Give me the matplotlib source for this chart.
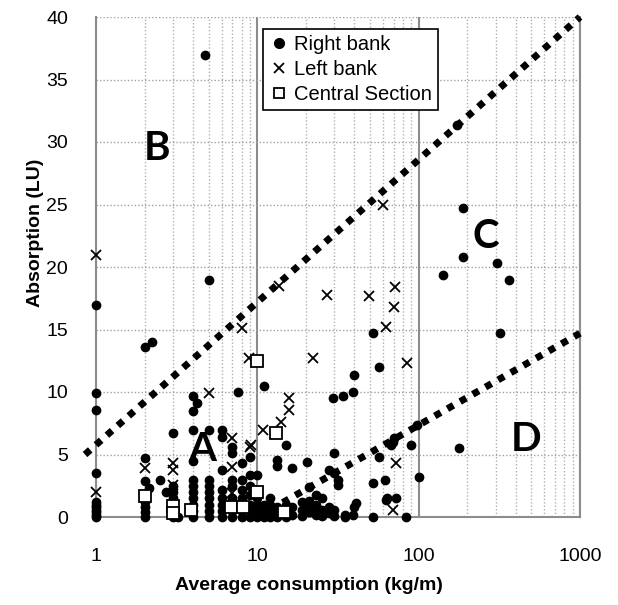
import matplotlib
matplotlib.use("Agg")
import matplotlib.pyplot as plt
from matplotlib.ticker import FixedLocator, NullFormatter

# Right bank (filled circles)
rb_x = [1, 1, 1, 1, 1, 1, 1, 1, 1, 1, 1,
        2, 2.22, 2, 2, 2, 2, 2, 2, 2.14, 2.5, 2.7,
        3, 3, 3, 3, 3, 3, 3, 3, 3.22,
        4, 4.2, 4, 4, 4, 4, 4, 4, 4, 4, 4, 4,
        4.73, 5, 5, 5, 5, 5, 5, 5, 5, 5,
        6, 6, 6, 6, 6, 6, 6, 6,
        7, 7, 7, 7, 7, 7, 7, 7, 7.6,
        8, 8, 8, 8, 8, 8, 8,
        9, 9, 9, 9, 9, 9, 9,
        10, 10, 10, 10, 10,
        11, 11, 11, 11, 11,
        12, 12, 12, 12,
        13.2, 13.2, 13.2, 13.2, 13.2,
        15, 15, 15, 15,
        16.4, 16.4, 16.4,
        19, 19, 19, 20.2,
        21, 21, 21, 21,
        23, 23, 23, 23,
        25, 25, 25,
        28, 28, 28, 29.3,
        30, 30, 30, 30, 31.5, 31.5, 33.8,
        35, 35, 39, 39, 40, 41, 40,
        52, 52, 52, 57, 57, 61.5, 63, 64,
        67, 69, 70, 72, 83, 90, 98, 101,
        141, 172, 177, 188, 188, 306, 318, 361]
rb_y = [17.0, 9.9, 8.6, 3.5, 1.2, 1.0, 0.8, 0.6, 0.4, 0.2, 0.0,
        13.6, 14.0, 4.7, 2.9, 1.2, 0.8, 0.4, 0.0, 2.3, 3.0, 2.0,
        6.7, 2.5, 2.0, 1.5, 1.0, 0.5, 0.2, 0.0, 0.0,
        9.7, 9.1, 8.5, 7.0, 4.5, 3.0, 2.5, 2.0, 1.5, 1.0, 0.5, 0.0,
        37.0, 19.0, 7.0, 3.0, 2.5, 2.0, 1.5, 1.0, 0.5, 0.0,
        7.0, 6.4, 3.8, 2.2, 1.5, 1.0, 0.5, 0.0,
        5.6, 5.1, 3.0, 2.5, 1.5, 1.0, 0.5, 0.0, 10.0,
        4.3, 3.0, 2.2, 1.5, 1.0, 0.5, 0.0,
        4.8, 3.4, 2.5, 1.8, 1.0, 0.5, 0.0,
        3.4, 1.5, 1.0, 0.5, 0.0,
        10.5, 1.0, 0.5, 0.2, 0.0,
        1.5, 1.0, 0.5, 0.0,
        4.6, 4.1, 0.8, 0.3, 0.0,
        5.8, 1.0, 0.5, 0.0,
        3.9, 0.8, 0.2,
        1.2, 0.6, 0.1, 4.4,
        2.4, 1.3, 0.9, 0.4,
        1.8, 1.0, 0.5, 0.2,
        1.5, 0.6, 0.1,
        3.8, 0.8, 0.3, 9.5,
        5.1, 3.5, 0.6, 0.1, 3.0, 2.6, 9.7,
        0.2, 0.0, 10.0, 0.2, 11.4, 1.1, 0.8,
        14.7, 2.7, 0.0, 12.0, 4.8, 3.0, 1.4, 1.5,
        5.8, 6.0, 6.3, 1.5, 0.0, 5.8, 7.4, 3.2,
        19.4, 31.4, 5.5, 24.7, 20.8, 20.3, 14.7, 19.0]

# Left bank (x markers)
lb_x = [1, 1, 2, 3, 3, 3, 5, 7, 7, 7, 9, 9.2, 8, 8.9,
        10.8, 13.6, 14, 15.7, 15.7, 22, 22, 27, 49, 60, 62.5, 70, 71, 72, 69, 85]
lb_y = [21.0, 2.0, 3.9, 4.3, 3.8, 2.6, 9.9, 6.3, 4.0, 1.9, 5.6, 5.8, 15.1, 12.7,
        7.0, 18.5, 7.6, 9.5, 8.6, 12.7, 0.6, 17.8, 17.7, 25.0, 15.2, 16.8, 18.4, 4.3, 0.6, 12.3]

# Central Section (open squares)
cs_x = [2, 3, 3, 3.9, 6.9, 8.1, 10, 10, 13, 14.6]
cs_y = [1.7, 0.9, 0.3, 0.6, 0.8, 0.8, 2.0, 12.5, 6.7, 0.4]

# dotted boundary lines
upper_x = [0.855, 1000]
upper_y = [5.0, 40.0]
lower_x = [10, 1000]
lower_y = [0.0, 14.7]

# zone letters
zone_labels = ["A", "B", "C", "D"]
zone_x = [4.53, 2.39, 260, 460]
zone_y = [5.4, 29.5, 22.4, 6.2]

plt.rcParams["font.family"] = ["Liberation Sans", "DejaVu Sans"]

fig = plt.figure(figsize=(6.18, 6.05), dpi=100)
ax = fig.add_axes([96 / 618, 1 - 517 / 605, 484 / 618, 500 / 605])

ax.set_xscale("log")
ax.set_xlim(1, 1000)
ax.set_ylim(0, 40)

ax.xaxis.set_major_locator(FixedLocator([1, 10, 100, 1000]))
ax.set_xticklabels(["1", "10", "100", "1000"])
minors = [m * 10 ** e for e in range(3) for m in range(2, 10)]
ax.xaxis.set_minor_locator(FixedLocator(minors))
ax.xaxis.set_minor_formatter(NullFormatter())
ax.set_yticks(range(0, 41, 5))

ax.grid(True, which="minor", axis="x", color="#b0b0b0", ls=(0, (1, 1.5)), lw=1)
ax.grid(True, which="major", axis="x", color="#8c8c8c", ls="-", lw=1.5)
ax.grid(True, which="major", axis="y", color="#a0a0a0", ls=(0, (1, 1.5)), lw=1)
ax.set_axisbelow(True)

for side in ("left", "bottom", "right"):
    ax.spines[side].set_color("#8c8c8c")
    ax.spines[side].set_linewidth(1.5)
ax.spines["top"].set_visible(False)

ax.tick_params(which="both", length=0, labelsize=14)
ax.tick_params(axis="x", pad=22)
ax.tick_params(axis="y", pad=20)

dot = (0, (1, 1.1))
ax.plot(upper_x, upper_y, color="black", lw=5, ls=dot,
        dash_capstyle="butt", clip_on=False, zorder=3)
ax.plot(lower_x, lower_y, color="black", lw=5, ls=dot,
        dash_capstyle="butt", clip_on=False, zorder=3)

ax.plot(rb_x, rb_y, "o", color="black", ms=6, ls="none", clip_on=False,
        zorder=4, label="Right bank")
ax.plot(lb_x, lb_y, "x", color="black", ms=7, mew=1.3, ls="none",
        clip_on=False, zorder=4, label="Left bank")
ax.plot(cs_x, cs_y, "s", mfc="white", mec="black", ms=9, mew=1.3, ls="none",
        clip_on=False, zorder=5, label="Central Section")

for lab, zx, zy in zip(zone_labels, zone_x, zone_y):
    ax.text(zx, zy, lab, fontsize=29, fontweight="bold", family="Lato",
            ha="center", va="center", zorder=6)

leg = ax.legend(loc="upper left", bbox_to_anchor=(263 / 618, 1 - 29 / 605),
                bbox_transform=fig.transFigure, fontsize=14.5, frameon=True,
                fancybox=False, edgecolor="black", framealpha=1,
                handlelength=1.0, handletextpad=0.25, labelspacing=0.3,
                borderpad=0.3, borderaxespad=0)
leg.get_frame().set_linewidth(1.2)
for h in leg.legend_handles:
    h.set_markersize(7)

fig.text(309 / 618, 1 - 585 / 605, "Average consumption (kg/m)",
         fontsize=14, fontweight="bold", ha="center", va="center")
fig.text(36 / 618, 1 - 233 / 605, "Absorption (LU)", rotation=90,
         fontsize=14, fontweight="bold", ha="center", va="center")

fig.savefig("out.png", dpi=100)
